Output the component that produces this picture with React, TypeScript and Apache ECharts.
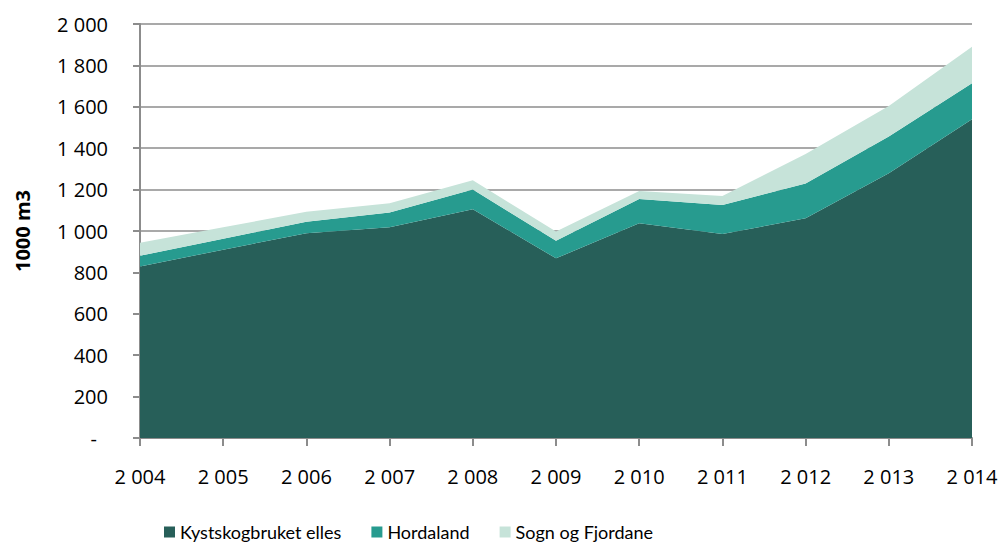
import React, { useEffect, useRef } from "react";
import * as echarts from "echarts";

const years = [2004, 2005, 2006, 2007, 2008, 2009, 2010, 2011, 2012, 2013, 2014];
const kystskogbruket = [828, 910, 989, 1018, 1105, 868, 1037, 985, 1061, 1279, 1540];
const hordaland = [53, 52, 56, 71, 95, 85, 118, 141, 169, 177, 174];
const sognOgFjordane = [62, 56, 48, 45, 45, 44, 38, 43, 142, 148, 176];
const seriesNames = ["Kystskogbruket elles", "Hordaland", "Sogn og Fjordane"];
const yTicks = [0, 200, 400, 600, 800, 1000, 1200, 1400, 1600, 1800, 2000];

const fmt = (v: number) => {
  const s = String(Math.round(v));
  return s.length > 3 ? s.slice(0, s.length - 3) + " " + s.slice(s.length - 3) : s;
};

export default function App() {
  const ref = useRef<HTMLDivElement>(null);
  useEffect(() => {
    if (!ref.current) return;
    const chart = echarts.init(ref.current, null, { renderer: "svg" });
    const font = "'Open Sans', Lato, sans-serif";
    const legendFont = "Lato, 'Open Sans', sans-serif";
    const axisGray = "#8c8c8c";
    const colors = ["#275f59", "#279b8f", "#c6e3d9"];
    const data = [kystskogbruket, hordaland, sognOgFjordane];
    chart.setOption({
      animation: false,
      grid: { left: 140, right: 30, top: 24, bottom: 104, containLabel: false, outerBoundsMode: "none" },
      legend: {
        data: seriesNames,
        left: 164,
        top: 523,
        padding: 0,
        itemGap: 30,
        itemWidth: 11,
        itemHeight: 11,
        icon: "rect",
        textStyle: { fontFamily: legendFont, fontSize: 18, color: "#000" },
      },
      xAxis: {
        type: "category",
        boundaryGap: false,
        data: years.map(String),
        axisLine: { lineStyle: { color: axisGray, width: 2 } },
        axisTick: { show: true, length: 8, alignWithLabel: true, lineStyle: { color: axisGray, width: 2 } },
        axisLabel: {
          margin: 28,
          fontFamily: font,
          fontSize: 20,
          color: "#000",
          formatter: (v: string) => fmt(Number(v)),
        },
        splitLine: { show: false },
      },
      yAxis: {
        type: "value",
        min: yTicks[0],
        max: yTicks[yTicks.length - 1],
        interval: 200,
        name: "1000 m3",
        nameLocation: "middle",
        nameRotate: 90,
        nameGap: 108,
        nameTextStyle: { fontFamily: font, fontSize: 20, fontWeight: "bold", color: "#000" },
        axisLine: { show: true, lineStyle: { color: axisGray, width: 2 } },
        axisTick: { show: true, length: 7, lineStyle: { color: axisGray, width: 2 } },
        axisLabel: {
          margin: 32,
          fontFamily: font,
          fontSize: 20,
          color: "#000",
          formatter: (v: number) => (v === 0 ? "{dash|-}" : fmt(v)),
          rich: { dash: { fontFamily: font, fontSize: 20, color: "#000", padding: [0, 11, 0, 0] } },
        },
        splitLine: { show: true, lineStyle: { color: axisGray, width: 1.5 } },
      },
      series: seriesNames.map((name, i) => ({
        name,
        type: "line",
        stack: "total",
        data: data[i],
        symbol: "none",
        lineStyle: { width: 0 },
        areaStyle: { color: colors[i], opacity: 1 },
        itemStyle: { color: colors[i] },
        z: 2 + i,
      })),
    });
    return () => chart.dispose();
  }, []);
  return <div ref={ref} style={{ width: 1002, height: 542, position: "absolute", left: 0, top: 0 }} />;
}
